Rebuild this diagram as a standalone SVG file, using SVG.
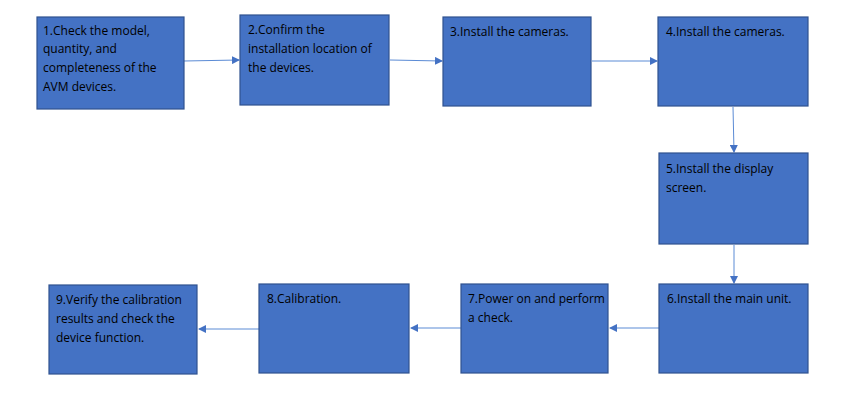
<svg xmlns="http://www.w3.org/2000/svg" width="860" height="403" viewBox="0 0 860 403">
<style>
.b{fill:#4472C4;stroke:#2F528F;stroke-width:1.2}
.t{font-family:"Open Sans","Liberation Sans",sans-serif;font-size:12px;fill:#000}
.c{stroke:#5B8BD5;stroke-width:1;fill:none;marker-end:url(#a)}
</style>
<defs><marker id="a" markerWidth="8" markerHeight="8" refX="7" refY="4" orient="auto" markerUnits="userSpaceOnUse"><path d="M0,0 L8,4 L0,8 Z" fill="#4472C4"/></marker></defs>
<rect width="860" height="403" fill="#fff"/>
<g id="connectors">
<path class="c" d="M184,61 L239,60"/>
<path class="c" d="M390,60 L442,61"/>
<path class="c" d="M592,61 L657,61"/>
<path class="c" d="M733,107 L734,152"/>
<path class="c" d="M734,245 L734,283"/>
<path class="c" d="M659,328 L610,328"/>
<path class="c" d="M461,328 L411,328"/>
<path class="c" d="M259,329 L199,329"/>
</g>
<g id="n1"><rect class="b" x="37" y="17" width="147" height="92"/><text class="t" x="43" y="35">1.Check the model,</text><text class="t" x="43" y="53">quantity, and</text><text class="t" x="43" y="72">completeness of the</text><text class="t" x="43" y="91">AVM devices.</text></g>
<g id="n2"><rect class="b" x="240" y="15" width="149" height="90"/><text class="t" x="248" y="34">2.Confirm the</text><text class="t" x="248" y="53">installation location of</text><text class="t" x="248" y="72">the devices.</text></g>
<g id="n3"><rect class="b" x="443" y="17" width="148" height="89"/><text class="t" x="450" y="36">3.Install the cameras.</text></g>
<g id="n4"><rect class="b" x="658" y="17" width="150" height="89"/><text class="t" x="666" y="36">4.Install the cameras.</text></g>
<g id="n5"><rect class="b" x="659" y="153" width="149" height="91"/><text class="t" x="666" y="173">5.Install the display</text><text class="t" x="666" y="192">screen.</text></g>
<g id="n6"><rect class="b" x="659" y="284" width="149" height="89"/><text class="t" x="667" y="303">6.Install the main unit.</text></g>
<g id="n7"><rect class="b" x="461" y="284" width="147" height="89"/><text class="t" x="468" y="303">7.Power on and perform</text><text class="t" x="468" y="322">a check.</text></g>
<g id="n8"><rect class="b" x="259" y="284" width="150" height="89"/><text class="t" x="267" y="303">8.Calibration.</text></g>
<g id="n9"><rect class="b" x="49" y="285" width="148" height="89"/><text class="t" x="56" y="304">9.Verify the calibration</text><text class="t" x="56" y="323">results and check the</text><text class="t" x="56" y="342">device function.</text></g>
</svg>
